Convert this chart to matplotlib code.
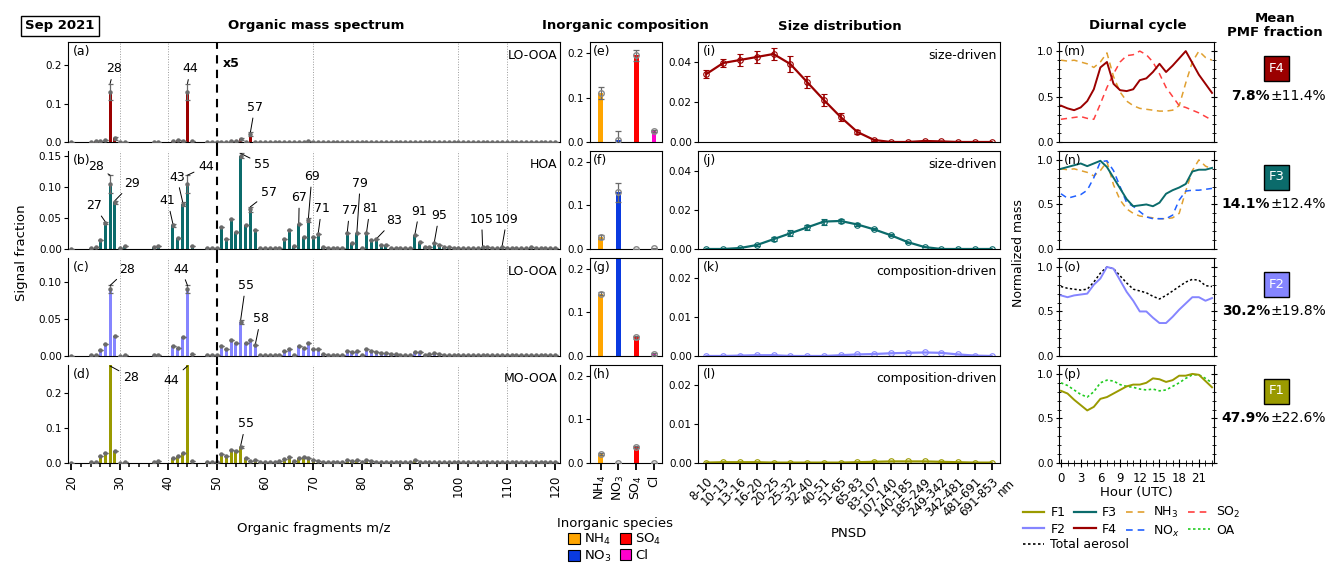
import matplotlib
matplotlib.use("Agg")
import matplotlib.pyplot as plt
from matplotlib.lines import Line2D
from matplotlib.patches import Patch, Rectangle
from matplotlib.ticker import MultipleLocator, FormatStrFormatter

plt.rcParams["font.family"] = ["DejaVu Sans"]

# ---------------- factor data ----------------
FACTORS = ["F4", "F3", "F2", "F1"]
FACTOR_TYPES = ["LO-OOA", "HOA", "LO-OOA", "MO-OOA"]
FACTOR_COLORS = ["#9b0000", "#0b6b6b", "#8585ff", "#9a9a00"]
PMF_MEAN = ["7.8%", "14.1%", "30.2%", "47.9%"]
PMF_STD = ["±11.4%", "±12.4%", "±19.8%", "±22.6%"]

# organic mass spectrum (m/z > 50 shown x5)
MZ = [20, 24, 25, 26, 27, 28, 29, 30, 31, 37, 38, 41, 42, 43, 44, 45, 48, 49, 50] + list(range(51, 121))

SPEC_F4 = [0.0005, 0.001, 0.002, 0.003, 0.004, 0.130, 0.010, 0.001, 0.001, 0.001, 0.001,
           0.003, 0.004, 0.003, 0.130, 0.002, 0.0005, 0.0005, 0.0005,
           0.001, 0.001, 0.002, 0.003, 0.008, 0.001, 0.020, 0.001, 0.0005, 0.0005,
           0.0005, 0.0005, 0.001, 0.001, 0.001, 0.0005, 0.001, 0.001, 0.002, 0.001,
           0.001, 0.0005, 0.0005, 0.0005, 0.0005, 0.0005, 0.001, 0.0005, 0.001, 0.0005,
           0.001, 0.0005, 0.0005, 0.0005, 0.0005, 0.0005, 0.0005, 0.0005, 0.0005, 0.0005,
           0.0005, 0.0005, 0.0005, 0.0005, 0.0005, 0.0005, 0.0005, 0.0005, 0.0005, 0.0005,
           0.0005, 0.0005, 0.0005, 0.0005, 0.0005, 0.0005, 0.0005, 0.0005, 0.0005, 0.0005,
           0.0005, 0.0005, 0.0005, 0.0005, 0.0005, 0.0005, 0.0005, 0.0005, 0.0005, 0.0005]
SPEC_F3 = [0.0005, 0.002, 0.004, 0.015, 0.042, 0.105, 0.075, 0.001, 0.005, 0.003, 0.005,
           0.038, 0.018, 0.073, 0.105, 0.005, 0.001, 0.001, 0.001,
           0.035, 0.016, 0.049, 0.027, 0.150, 0.038, 0.064, 0.030, 0.002, 0.002,
           0.001, 0.002, 0.001, 0.016, 0.030, 0.005, 0.040, 0.020, 0.047, 0.020,
           0.024, 0.004, 0.001, 0.001, 0.001, 0.002, 0.025, 0.009, 0.025, 0.001,
           0.026, 0.014, 0.016, 0.006, 0.006, 0.001, 0.001, 0.001, 0.002, 0.001,
           0.023, 0.012, 0.004, 0.003, 0.010, 0.007, 0.004, 0.004, 0.001, 0.001,
           0.001, 0.001, 0.001, 0.001, 0.004, 0.003, 0.002, 0.002, 0.003, 0.002,
           0.001, 0.001, 0.001, 0.002, 0.003, 0.001, 0.001, 0.001, 0.001, 0.001]
SPEC_F2 = [0.0005, 0.001, 0.002, 0.008, 0.016, 0.090, 0.027, 0.0005, 0.002, 0.001, 0.002,
           0.014, 0.011, 0.025, 0.090, 0.003, 0.001, 0.001, 0.001,
           0.014, 0.010, 0.021, 0.017, 0.046, 0.018, 0.021, 0.015, 0.002, 0.002,
           0.001, 0.001, 0.001, 0.007, 0.010, 0.002, 0.014, 0.011, 0.017, 0.009,
           0.009, 0.003, 0.002, 0.002, 0.002, 0.002, 0.007, 0.005, 0.007, 0.002,
           0.009, 0.007, 0.006, 0.004, 0.004, 0.003, 0.003, 0.001, 0.001, 0.001,
           0.006, 0.006, 0.002, 0.003, 0.004, 0.003, 0.002, 0.001, 0.001, 0.001,
           0.001, 0.001, 0.001, 0.001, 0.002, 0.002, 0.001, 0.001, 0.001, 0.002,
           0.001, 0.001, 0.001, 0.001, 0.001, 0.002, 0.001, 0.001, 0.001, 0.001]
SPEC_F1 = [0.001, 0.002, 0.003, 0.020, 0.028, 0.400, 0.035, 0.001, 0.003, 0.004, 0.005,
           0.015, 0.020, 0.030, 0.400, 0.005, 0.002, 0.002, 0.002,
           0.027, 0.020, 0.036, 0.034, 0.047, 0.014, 0.007, 0.008, 0.003, 0.003,
           0.003, 0.003, 0.005, 0.012, 0.018, 0.006, 0.015, 0.018, 0.015, 0.010,
           0.006, 0.003, 0.003, 0.003, 0.003, 0.003, 0.009, 0.006, 0.008, 0.003,
           0.009, 0.006, 0.004, 0.002, 0.002, 0.002, 0.002, 0.002, 0.002, 0.002,
           0.008, 0.003, 0.003, 0.003, 0.003, 0.002, 0.002, 0.002, 0.002, 0.002,
           0.002, 0.002, 0.002, 0.002, 0.002, 0.002, 0.002, 0.002, 0.002, 0.002,
           0.002, 0.002, 0.002, 0.002, 0.002, 0.002, 0.002, 0.002, 0.002, 0.002]
SPECTRA = [SPEC_F4, SPEC_F3, SPEC_F2, SPEC_F1]

# uncertainty on the main fragments
SPEC_ERR = [
    {28: 0.022, 29: 0.004, 44: 0.022, 55: 0.003, 57: 0.005},
    {27: 0.002, 28: 0.014, 29: 0.003, 41: 0.002, 43: 0.003, 44: 0.014, 55: 0.004, 57: 0.004, 69: 0.003},
    {28: 0.005, 44: 0.005, 55: 0.003},
    {55: 0.003},
]
SPEC_YMAX = [0.26, 0.158, 0.132, 0.28]
SPEC_YTICKS = [[0, 0.1, 0.2], [0, 0.05, 0.10, 0.15], [0, 0.05, 0.10], [0, 0.1, 0.2]]
SPEC_YFMT = ["%.1f", "%.2f", "%.2f", "%.1f"]
GRID_MZ = [30, 40, 70, 100, 110]

# labelled fragments: (m/z, label x, label y)
SPEC_LABELS = [
    [(28, 28.8, 0.19), (44, 44.6, 0.19), (57, 57.9, 0.09)],
    [(27, 24.7, 0.070), (28, 25.1, 0.133), (29, 32.5, 0.106), (41, 39.9, 0.078),
     (43, 41.8, 0.116), (44, 47.8, 0.133), (55, 59.4, 0.137), (57, 60.8, 0.091),
     (67, 67.1, 0.083), (69, 69.7, 0.117), (71, 71.7, 0.065), (77, 77.5, 0.062),
     (79, 79.7, 0.106), (81, 81.7, 0.065), (83, 86.7, 0.046), (91, 91.9, 0.061),
     (95, 96.0, 0.054), (105, 104.8, 0.048), (109, 110.0, 0.048)],
    [(28, 31.6, 0.117), (44, 42.7, 0.117), (55, 56.0, 0.095), (58, 59.1, 0.050)],
    [(28, 32.3, 0.245), (44, 40.7, 0.237), (55, 56.0, 0.112)],
]

# inorganic composition
INORG_SPECIES = ["NH$_4$", "NO$_3$", "SO$_4$", "Cl"]
INORG_COLORS = ["#ffa500", "#0a3ae0", "#ff0000", "#ff00cc"]
INORG_F4 = [0.110, 0.005, 0.195, 0.025]
INORG_F3 = [0.027, 0.130, 0.000, 0.002]
INORG_F2 = [0.143, 0.380, 0.043, 0.005]
INORG_F1 = [0.020, 0.000, 0.036, 0.000]
INORG_ERR_F4 = [0.013, 0.020, 0.012, 0.003]
INORG_ERR_F3 = [0.004, 0.022, 0.001, 0.001]
INORG_ERR_F2 = [0.003, 0.010, 0.003, 0.002]
INORG_ERR_F1 = [0.002, 0.001, 0.002, 0.001]
INORG = [INORG_F4, INORG_F3, INORG_F2, INORG_F1]
INORG_ERR = [INORG_ERR_F4, INORG_ERR_F3, INORG_ERR_F2, INORG_ERR_F1]

# particle number size distribution
PNSD_BINS = ["8-10", "10-13", "13-16", "16-20", "20-25", "25-32", "32-40", "40-51", "51-65",
             "65-83", "83-107", "107-140", "140-185", "185-249", "249-342", "342-481",
             "481-691", "691-853"]
PNSD_F4 = [0.034, 0.0395, 0.041, 0.0425, 0.044, 0.039, 0.030, 0.021, 0.0125, 0.005,
           0.001, 0.0, 0.0, 0.0005, 0.0003, 0.0, 0.0, 0.0]
PNSD_F3 = [0.0, 0.0, 0.0005, 0.002, 0.005, 0.008, 0.011, 0.014, 0.0143, 0.0125,
           0.010, 0.007, 0.0035, 0.001, 0.0, 0.0, 0.0, 0.0]
PNSD_F2 = [0.0, 0.0, 0.0001, 0.0002, 0.0002, 0.0, 0.0, 0.0, 0.0002, 0.0004,
           0.0005, 0.0007, 0.0008, 0.0009, 0.0008, 0.0004, 0.0001, 0.0]
PNSD_F1 = [0.0001, 0.0002, 0.0002, 0.0002, 0.0001, 0.0001, 0.0001, 0.0001, 0.0001, 0.0002,
           0.0003, 0.0004, 0.0004, 0.0004, 0.0003, 0.0002, 0.0001, 0.0001]
PNSD_ERR_F4 = [0.002, 0.002, 0.003, 0.003, 0.003, 0.004, 0.003, 0.003, 0.002, 0.001,
               0.0005, 0, 0, 0, 0, 0, 0, 0]
PNSD_ERR_F3 = [0, 0, 0.0003, 0.0005, 0.001, 0.0015, 0.0015, 0.0015, 0.001, 0.0007,
               0.0005, 0.0005, 0.0003, 0, 0, 0, 0, 0]
PNSD_ERR_F2 = [0] * 18
PNSD_ERR_F1 = [0] * 18
PNSD = [PNSD_F4, PNSD_F3, PNSD_F2, PNSD_F1]
PNSD_ERR = [PNSD_ERR_F4, PNSD_ERR_F3, PNSD_ERR_F2, PNSD_ERR_F1]
PNSD_MODE = ["size-driven", "size-driven", "composition-driven", "composition-driven"]

# diurnal cycles (normalized)
HOURS = list(range(24))
DIURNAL_F4 = [0.40, 0.37, 0.35, 0.38, 0.45, 0.58, 0.82, 0.88, 0.64, 0.57, 0.56, 0.58,
              0.68, 0.70, 0.77, 0.86, 0.77, 0.84, 0.92, 1.00, 0.87, 0.74, 0.64, 0.54]
DIURNAL_F3 = [0.90, 0.92, 0.94, 0.96, 0.93, 0.96, 0.99, 0.92, 0.80, 0.68, 0.56, 0.48,
              0.49, 0.50, 0.48, 0.52, 0.62, 0.66, 0.69, 0.73, 0.87, 0.89, 0.89, 0.91]
DIURNAL_F2 = [0.68, 0.66, 0.68, 0.69, 0.70, 0.80, 0.87, 1.00, 0.98, 0.85, 0.72, 0.62,
              0.50, 0.50, 0.43, 0.37, 0.37, 0.44, 0.52, 0.59, 0.66, 0.66, 0.62, 0.65]
DIURNAL_F1 = [0.81, 0.78, 0.71, 0.65, 0.59, 0.63, 0.72, 0.74, 0.78, 0.82, 0.86, 0.88,
              0.88, 0.90, 0.95, 0.94, 0.91, 0.93, 0.98, 0.98, 1.00, 0.99, 0.92, 0.85]
DIURNAL_NH3 = [0.90, 0.89, 0.90, 0.88, 0.86, 0.82, 0.88, 0.98, 0.72, 0.55, 0.45, 0.40,
               0.37, 0.36, 0.35, 0.34, 0.34, 0.35, 0.40, 0.65, 0.88, 1.00, 0.93, 0.90]
DIURNAL_SO2 = [0.25, 0.26, 0.27, 0.28, 0.26, 0.25, 0.42, 0.60, 0.75, 0.88, 0.95, 0.96,
               1.00, 0.96, 0.88, 0.75, 0.60, 0.50, 0.40, 0.38, 0.35, 0.32, 0.28, 0.24]
DIURNAL_NOX = [0.62, 0.57, 0.59, 0.61, 0.66, 0.80, 0.98, 0.99, 0.88, 0.70, 0.52, 0.48,
               0.42, 0.36, 0.34, 0.34, 0.34, 0.38, 0.55, 0.65, 0.66, 0.66, 0.67, 0.68]
DIURNAL_TOTAL = [0.78, 0.76, 0.75, 0.74, 0.75, 0.83, 0.93, 1.00, 0.98, 0.90, 0.82, 0.75,
                 0.73, 0.71, 0.67, 0.64, 0.68, 0.73, 0.78, 0.83, 0.86, 0.85, 0.79, 0.78]
DIURNAL_OA = [0.90, 0.87, 0.82, 0.77, 0.74, 0.80, 0.90, 0.93, 0.92, 0.88, 0.86, 0.85,
              0.83, 0.82, 0.83, 0.81, 0.82, 0.86, 0.90, 0.95, 0.99, 0.99, 0.95, 0.90]
DIURNAL = [DIURNAL_F4, DIURNAL_F3, DIURNAL_F2, DIURNAL_F1]

NH3_COLOR = "#e0a030"
SO2_COLOR = "#ff4040"
NOX_COLOR = "#2060ff"
OA_COLOR = "#22cc22"
DASHED = (0, (4, 3))
DOTTED = (0, (1.5, 1.5))

# ---------------- layout (pixels) ----------------
W, H = 1329, 565
ROWS = [(42, 142), (151, 249), (258, 356), (365, 463)]
SPEC_X = (68, 560)
INORG_X = (590, 662)
SIZE_X = (698, 1000)
DIURN_X = (1059, 1214)
TICK_FS = 7.5
GREY = "#6a6a6a"


def px_rect(x, row):
    top, bottom = row
    return [x[0] / W, 1 - bottom / H, (x[1] - x[0]) / W, (bottom - top) / H]


def fx(px):
    return px / W


def fy(py):
    return 1 - py / H


fig = plt.figure(figsize=(W / 100, H / 100), dpi=100)

letters = "abcdefghijklmnop"

for i in range(4):
    row = ROWS[i]
    color = FACTOR_COLORS[i]
    last = i == 3

    # ----- organic mass spectrum -----
    ax = fig.add_axes(px_rect(SPEC_X, row))
    vals = SPECTRA[i]
    errs = [SPEC_ERR[i].get(m, 0) for m in MZ]
    ymax = SPEC_YMAX[i]
    for g in GRID_MZ:
        ax.axvline(g, color="#9a9a9a", ls=":", lw=0.7, zorder=0)
    ax.bar(MZ, vals, width=0.62, color=color, zorder=2)
    ax.errorbar(MZ, vals, yerr=errs, fmt="o", ms=2.2, color=GREY, ecolor=GREY,
                elinewidth=0.9, capsize=1.8, capthick=0.9, zorder=3)
    ax.axvline(50, ymin=0 if last else -0.09, ymax=1, color="k", ls=(0, (4, 3)),
               lw=1.5, clip_on=False, zorder=4)
    for m, tx, ty in SPEC_LABELS[i]:
        k = MZ.index(m)
        top = min(vals[k] + errs[k], ymax * 0.99)
        ax.annotate(str(m), xy=(m, top), xytext=(tx, ty), ha="center", va="center",
                    fontsize=9, arrowprops=dict(arrowstyle="-", color="k", lw=0.7,
                                                shrinkA=1, shrinkB=0))
    ax.set_xlim(19.3, 121)
    ax.set_ylim(0, ymax)
    ax.set_yticks(SPEC_YTICKS[i])
    ax.yaxis.set_major_formatter(FormatStrFormatter(SPEC_YFMT[i]))
    ax.xaxis.set_major_locator(MultipleLocator(10))
    ax.xaxis.set_minor_locator(MultipleLocator(2))
    ax.tick_params(axis="y", labelsize=TICK_FS, length=3, pad=1.5)
    ax.tick_params(axis="x", which="major", length=5, width=1.3, labelsize=8.5,
                   labelrotation=90, bottom=last, labelbottom=last)
    ax.tick_params(axis="x", which="minor", length=3, width=1.1, bottom=last)
    if i > 0:
        ax.spines["top"].set_visible(False)
    ax.text(0.01, 0.97, f"({letters[i]})", transform=ax.transAxes, fontsize=9,
            ha="left", va="top")
    ax.text(0.995, 0.93, FACTOR_TYPES[i], transform=ax.transAxes, fontsize=9,
            ha="right", va="top")
    if i == 0:
        ax.text(51.2, 0.205, "x5", fontsize=9, fontweight="bold", ha="left", va="center")
    if last:
        ax.set_xlabel("Organic fragments m/z", fontsize=9.5, labelpad=18)

    # ----- inorganic composition -----
    ax = fig.add_axes(px_rect(INORG_X, row))
    xs = range(len(INORG_SPECIES))
    ax.bar(xs, INORG[i], width=0.28, color=INORG_COLORS, zorder=2)
    ax.errorbar(xs, INORG[i], yerr=INORG_ERR[i], fmt="o", ms=4, mfc="none", mec="#888888",
                ecolor=GREY, elinewidth=0.9, capsize=2.5, capthick=0.9, zorder=3)
    ax.set_xlim(-0.6, 3.45)
    ax.set_ylim(0, 0.225)
    ax.set_yticks([0, 0.1, 0.2])
    ax.yaxis.set_major_formatter(FormatStrFormatter("%.1f"))
    ax.set_xticks(list(xs))
    ax.set_xticklabels(INORG_SPECIES if last else [], rotation=90, fontsize=9)
    ax.tick_params(axis="y", labelsize=TICK_FS, length=3, pad=1.5)
    ax.tick_params(axis="x", length=5, width=1.3, bottom=last)
    ax.text(0.04, 0.97, f"({letters[4 + i]})", transform=ax.transAxes, fontsize=9,
            ha="left", va="top")

    # ----- size distribution -----
    ax = fig.add_axes(px_rect(SIZE_X, row))
    xs = range(len(PNSD_BINS))
    ax.errorbar(xs, PNSD[i], yerr=PNSD_ERR[i], color=color, lw=1.6, marker="o", ms=4,
                mfc="none", mec=color, mew=0.8, elinewidth=1.2, capsize=2.5, capthick=1.0)
    ax.set_xlim(-0.5, 17.5)
    if i < 2:
        ax.set_ylim(0, 0.05)
        ax.set_yticks([0, 0.02, 0.04])
    else:
        ax.set_ylim(0, 0.025)
        ax.set_yticks([0, 0.01, 0.02])
    ax.yaxis.set_major_formatter(FormatStrFormatter("%.2f"))
    ax.set_xticks(list(xs))
    ax.tick_params(axis="y", labelsize=TICK_FS, length=3, pad=1.5)
    ax.tick_params(axis="x", length=5, width=1.3, bottom=last)
    if last:
        ax.set_xticklabels(PNSD_BINS, rotation=45, ha="right", rotation_mode="anchor",
                           fontsize=8.5)
        ax.text(18.0, -0.0035, "nm", rotation=45, ha="right", va="top",
                rotation_mode="anchor", fontsize=8.5, clip_on=False)
        ax.set_xlabel("PNSD", fontsize=9.5, labelpad=6)
    else:
        ax.set_xticklabels([])
    ax.text(0.015, 0.97, f"({letters[8 + i]})", transform=ax.transAxes, fontsize=9,
            ha="left", va="top")
    ax.text(0.99, 0.93, PNSD_MODE[i], transform=ax.transAxes, fontsize=9,
            ha="right", va="top")

    # ----- diurnal cycle -----
    ax = fig.add_axes(px_rect(DIURN_X, row))
    if i == 0:
        ax.plot(HOURS, DIURNAL_NH3, color=NH3_COLOR, ls=DASHED, lw=1.1)
        ax.plot(HOURS, DIURNAL_SO2, color=SO2_COLOR, ls=DASHED, lw=1.1)
    elif i == 1:
        ax.plot(HOURS, DIURNAL_NH3, color=NH3_COLOR, ls=DASHED, lw=1.1)
        ax.plot(HOURS, DIURNAL_NOX, color=NOX_COLOR, ls=DASHED, lw=1.1)
    elif i == 2:
        ax.plot(HOURS, DIURNAL_TOTAL, color="k", ls=DOTTED, lw=1.1)
    else:
        ax.plot(HOURS, DIURNAL_OA, color=OA_COLOR, ls=DOTTED, lw=1.2)
    ax.plot(HOURS, DIURNAL[i], color=color, lw=1.4)
    ax.set_xlim(-0.3, 23.3)
    ax.set_ylim(0, 1.1)
    ax.set_yticks([0, 0.5, 1.0])
    ax.yaxis.set_minor_locator(MultipleLocator(0.1))
    ax.yaxis.set_major_formatter(FormatStrFormatter("%.1f"))
    ax.xaxis.set_major_locator(MultipleLocator(3))
    ax.xaxis.set_minor_locator(MultipleLocator(1))
    ax.tick_params(axis="y", which="both", direction="inout", right=True,
                   labelsize=TICK_FS, pad=1.5)
    ax.tick_params(axis="y", which="major", length=5)
    ax.tick_params(axis="y", which="minor", length=3)
    ax.tick_params(axis="x", which="both", bottom=last, labelbottom=last, labelsize=8.5,
                   direction="inout")
    ax.tick_params(axis="x", which="major", length=6)
    ax.tick_params(axis="x", which="minor", length=4)
    ax.text(0.03, 0.97, f"({letters[12 + i]})", transform=ax.transAxes, fontsize=9,
            ha="left", va="top")
    if last:
        ax.set_xlabel("Hour (UTC)", fontsize=9.5, labelpad=1)

    # ----- mean PMF fraction -----
    cy = (row[0] + row[1]) / 2 - 23
    fig.patches.append(Rectangle((fx(1264), fy(cy + 12.5)), 25 / W, 25 / H,
                                 transform=fig.transFigure, facecolor=color,
                                 edgecolor="k", lw=1.0))
    fig.text(fx(1276.5), fy(cy), FACTORS[i], color="white", fontsize=9.5,
             ha="center", va="center")
    fig.text(fx(1270), fy(cy + 27), PMF_MEAN[i], fontsize=10, fontweight="bold",
             ha="right", va="center")
    fig.text(fx(1270), fy(cy + 27), PMF_STD[i], fontsize=10, ha="left", va="center")

# ---------------- headers ----------------
fig.text(fx(60), fy(26), "Sep 2021", fontsize=9.5, fontweight="bold", ha="center",
         va="center", bbox=dict(boxstyle="square,pad=0.3", facecolor="white",
                                edgecolor="k", lw=1.0))
fig.text(fx(316), fy(26), "Organic mass spectrum", fontsize=9.5, fontweight="bold",
         ha="center", va="center")
fig.text(fx(625), fy(26), "Inorganic composition", fontsize=9.5, fontweight="bold",
         ha="center", va="center")
fig.text(fx(840), fy(26), "Size distribution", fontsize=9.5, fontweight="bold",
         ha="center", va="center")
fig.text(fx(1138), fy(26), "Diurnal cycle", fontsize=9.5, fontweight="bold",
         ha="center", va="center")
fig.text(fx(1275), fy(26), "Mean\nPMF fraction", fontsize=9.5, fontweight="bold",
         ha="center", va="center", linespacing=1.1)

fig.text(fx(22), fy(253), "Signal fraction", fontsize=9.5, rotation=90,
         ha="center", va="center")
fig.text(fx(1019), fy(253), "Normalized mass", fontsize=9, rotation=90,
         ha="center", va="center")

# ---------------- legends ----------------
inorg_handles = [Patch(facecolor=c, edgecolor="k", lw=0.8) for c in INORG_COLORS]
fig.legend(inorg_handles, INORG_SPECIES, title="Inorganic species", ncol=2,
           loc="upper center", bbox_to_anchor=(fx(615), fy(510)), frameon=False,
           fontsize=9.5, title_fontsize=9.5, handlelength=0.9, handleheight=0.9,
           handletextpad=0.3, columnspacing=0.6, labelspacing=0.15, borderpad=0)

diurnal_handles = [
    Line2D([], [], color=FACTOR_COLORS[3], lw=1.6),
    Line2D([], [], color=FACTOR_COLORS[2], lw=1.6),
    Line2D([], [], color=FACTOR_COLORS[1], lw=1.6),
    Line2D([], [], color=FACTOR_COLORS[0], lw=1.6),
    Line2D([], [], color=NH3_COLOR, ls=DASHED, lw=1.2),
    Line2D([], [], color=NOX_COLOR, ls=DASHED, lw=1.2),
    Line2D([], [], color=SO2_COLOR, ls=DASHED, lw=1.2),
    Line2D([], [], color=OA_COLOR, ls=DOTTED, lw=1.2),
]
diurnal_labels = ["F1", "F2", "F3", "F4", "NH$_3$", "NO$_x$", "SO$_2$", "OA"]
leg_kw = dict(frameon=False, fontsize=9, handlelength=1.7, handletextpad=0.5,
              columnspacing=0.7, labelspacing=0.3, borderpad=0, borderaxespad=0)
fig.legend(diurnal_handles, diurnal_labels, ncol=4, loc="upper left",
           bbox_to_anchor=(fx(1023), fy(505)), **leg_kw)
fig.legend([Line2D([], [], color="k", ls=DOTTED, lw=1.2)], ["Total aerosol"],
           loc="upper left", bbox_to_anchor=(fx(1023), fy(538)), **leg_kw)

fig.savefig("out.png", dpi=100)
